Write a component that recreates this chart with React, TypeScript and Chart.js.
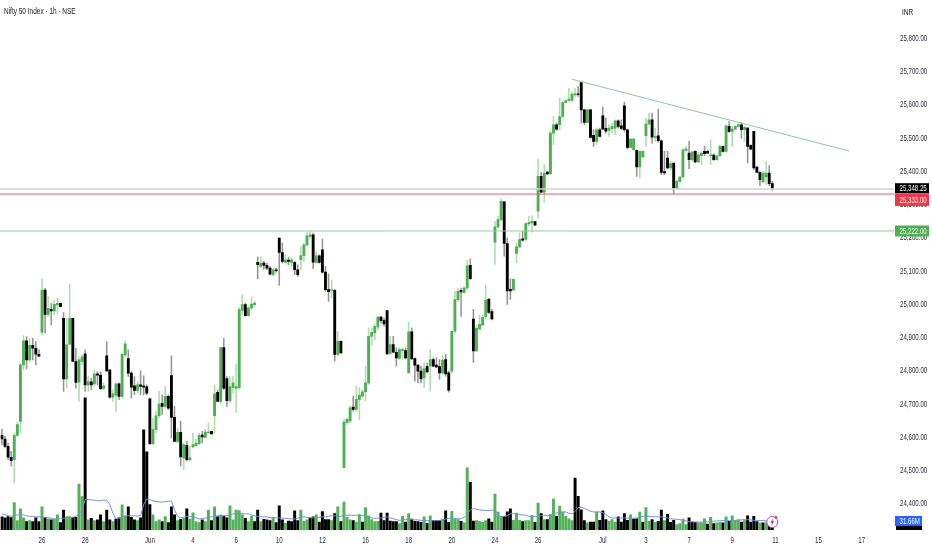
import React, { useEffect, useRef } from 'react';
import Chart from 'chart.js/auto';

const opens = [24605,24594,24572,24539,24532,24605,24647,24817,24889,24832,24876,24867,24849,24915,25042,24969,24984,24979,24997,25002,24957,24775,24879,24957,24827,24765,24827,24850,24757,24766,24760,24790,24786,24746,24844,24802,24720,24726,24760,24722,24847,24836,24792,24754,24740,24757,24754,24751,24715,24580,24622,24664,24701,24692,24722,24785,24659,24587,24614,24537,24575,24532,24570,24574,24580,24606,24599,24612,24617,24664,24734,24707,24869,24776,24709,24748,24746,24748,24981,24998,24965,24988,24998,25125,25113,25123,25116,25108,25088,25103,25198,25155,25125,25132,25125,25125,25103,25133,25145,25178,25203,25208,25125,25145,25163,25096,25043,25041,25041,24848,24888,24508,24643,24648,24690,24683,24713,24723,24736,24763,24903,24913,24931,24961,24950,24980,24851,24878,24855,24836,24860,24860,24793,24916,24836,24816,24798,24778,24812,24813,24833,24816,24812,24793,24833,24793,24798,24918,25013,25041,25035,25048,25116,24955,24859,24925,24937,24962,25014,24977,25186,25232,25254,25307,25182,25044,25042,25152,25172,25196,25194,25241,25244,25248,25279,25384,25336,25397,25392,25514,25539,25539,25564,25606,25612,25612,25629,25632,25666,25584,25546,25584,25507,25489,25524,25566,25528,25522,25527,25529,25551,25536,25596,25524,25471,25464,25462,25412,25442,25506,25541,25554,25501,25506,25491,25398,25439,25409,25424,25349,25369,25382,25462,25454,25434,25459,25427,25446,25459,25459,25446,25448,25434,25446,25474,25459,25534,25519,25526,25534,25539,25524,25529,25477,25519,25412,25396,25367,25382,25394,25362];
const highs = [24624,24602,24582,24557,24612,24644,24822,24905,24902,24897,24897,24887,24862,25075,25047,25022,25002,25012,25017,25002,24974,24957,25060,24957,24867,24840,24847,24862,24782,24777,24802,24797,24797,24762,24887,24802,24742,24762,24762,24852,24889,24862,24797,24782,24767,24799,24784,24757,24717,24657,24677,24737,24727,24752,24727,24844,24692,24627,24647,24582,24587,24572,24612,24592,24612,24617,24622,24642,24617,24757,24742,24870,24897,24782,24782,24783,24818,24990,25028,25003,24993,25021,25008,25141,25141,25128,25123,25113,25108,25108,25198,25183,25148,25141,25141,25128,25118,25173,25183,25215,25218,25213,25158,25148,25195,25113,25090,25073,25043,24918,24890,24653,24658,24693,24723,24753,24748,24743,24813,24928,24928,24938,24963,24963,24958,24980,24903,24903,24868,24868,24868,24868,24946,24928,24838,24818,24813,24823,24823,24863,24838,24838,24833,24843,24848,24798,24918,25038,25048,25048,25053,25131,25136,24984,24937,24967,24967,25057,25017,24984,25249,25264,25316,25309,25199,25076,25076,25184,25214,25219,25244,25264,25266,25248,25436,25396,25419,25399,25519,25564,25544,25619,25609,25614,25649,25639,25649,25654,25666,25586,25586,25586,25524,25529,25529,25592,25559,25539,25544,25554,25554,25554,25607,25526,25499,25499,25464,25461,25461,25559,25574,25574,25529,25586,25494,25459,25459,25429,25424,25372,25384,25466,25474,25489,25459,25461,25456,25459,25474,25462,25494,25452,25449,25477,25476,25539,25549,25534,25536,25544,25546,25534,25531,25479,25519,25414,25399,25399,25429,25416,25369];
const lows = [24577,24567,24532,24512,24463,24602,24612,24802,24805,24827,24832,24817,24842,24907,24912,24962,24937,24967,24972,24992,24737,24747,24877,24827,24747,24707,24817,24737,24737,24742,24752,24757,24742,24742,24797,24717,24707,24677,24712,24717,24842,24782,24717,24727,24732,24727,24727,24727,24577,24577,24612,24657,24667,24687,24682,24597,24587,24582,24512,24502,24527,24527,24567,24572,24577,24582,24597,24612,24609,24612,24707,24702,24742,24692,24702,24732,24673,24743,24968,24963,24963,24983,24991,25076,25108,25105,25103,25088,25085,25095,25056,25123,25123,25118,25113,25088,25083,25103,25128,25173,25198,25106,25123,25123,25093,25038,25008,25018,24828,24843,24851,24508,24638,24643,24678,24678,24653,24718,24708,24758,24875,24893,24923,24943,24933,24848,24848,24853,24813,24833,24833,24835,24793,24833,24768,24763,24763,24748,24793,24738,24811,24808,24773,24788,24783,24735,24793,24913,25008,24963,25033,25043,25074,24824,24857,24922,24934,24957,24972,24952,25119,25229,25249,25144,24999,25014,25039,25124,25169,25189,25189,25234,25216,25237,25259,25334,25306,25389,25389,25479,25522,25522,25559,25604,25609,25609,25624,25624,25544,25539,25544,25499,25474,25479,25502,25524,25514,25504,25514,25509,25529,25524,25519,25467,25469,25462,25384,25379,25439,25474,25539,25484,25489,25487,25389,25389,25406,25404,25332,25346,25366,25379,25459,25407,25429,25424,25424,25419,25446,25452,25419,25432,25432,25444,25457,25456,25516,25474,25524,25532,25499,25489,25424,25464,25404,25394,25356,25364,25359,25356,25342];
const closes = [24594,24572,24539,24529,24605,24637,24817,24889,24832,24876,24867,24849,24843,25042,24969,24987,24979,24999,25002,24992,24775,24877,24957,24827,24764,24832,24840,24757,24767,24757,24790,24786,24745,24754,24799,24720,24730,24760,24722,24849,24880,24792,24750,24740,24757,24752,24750,24732,24580,24622,24664,24699,24692,24722,24687,24659,24587,24614,24540,24577,24532,24537,24577,24582,24605,24600,24615,24615,24609,24730,24707,24869,24747,24709,24752,24763,24752,24983,24998,24965,24988,25000,25003,25118,25123,25116,25108,25090,25103,25100,25155,25128,25133,25128,25133,25103,25088,25146,25178,25205,25208,25126,25145,25125,25096,25043,25037,25043,24848,24888,24853,24645,24653,24688,24683,24713,24726,24736,24763,24903,24915,24933,24961,24950,24940,24850,24878,24855,24838,24863,24863,24838,24916,24835,24816,24798,24775,24806,24796,24833,24813,24811,24793,24831,24790,24741,24918,25013,25038,25036,25048,25115,25076,24859,24927,24939,24960,25012,24975,24955,25232,25254,25309,25182,25039,25039,25074,25172,25194,25192,25242,25246,25249,25237,25384,25336,25394,25391,25514,25539,25526,25564,25606,25612,25616,25631,25632,25630,25584,25546,25584,25501,25489,25524,25504,25526,25520,25529,25534,25551,25534,25528,25524,25471,25496,25496,25412,25459,25459,25541,25554,25502,25504,25491,25396,25394,25409,25422,25349,25369,25382,25464,25467,25434,25457,25427,25449,25454,25452,25454,25449,25434,25446,25474,25459,25536,25519,25526,25534,25539,25524,25531,25474,25466,25409,25396,25374,25394,25394,25362,25348.25];
const volumes = [48,44,49,45,100,34,77,44,31,34,31,44,31,85,46,40,37,40,55,27,73,49,49,46,46,168,122,483,37,43,34,37,55,31,73,37,31,40,44,92,51,85,46,37,34,44,366,285,93,55,31,37,31,49,27,85,55,34,39,43,77,40,63,31,27,37,31,73,34,85,51,55,51,44,88,37,73,71,55,43,31,51,31,73,31,39,37,34,46,27,88,37,24,33,31,70,34,73,33,37,44,48,55,29,67,38,38,34,60,85,31,102,46,37,34,29,56,29,82,52,38,31,32,62,34,62,33,31,31,23,50,29,60,40,32,31,28,48,24,52,35,35,35,38,70,28,68,41,38,32,26,227,174,33,34,32,28,34,41,29,131,65,50,50,66,77,35,62,35,31,34,34,54,28,98,60,38,38,56,113,50,87,65,50,41,34,190,123,74,34,26,29,29,65,35,70,38,32,38,29,48,29,60,35,55,40,41,65,29,82,32,38,28,32,73,34,57,28,35,20,23,40,20,44,29,28,26,26,41,22,46,23,26,28,26,48,32,52,35,37,29,34,52,29,50,31,26,26,26,18,15];
// g = up volume, k = down volume
const volumeSides = (
  'kkkkggggkg' + 'kkkgkgkggk' + 'kggkkggkgk' + 'gkkgkkgkkg' + 'gkkkgkkkkg' +
  'ggkgkkkgkg' + 'kggggkggkg' + 'kgkkgggggk' + 'ggkkgkkkgk' + 'kkgkkkkggg' +
  'kkgkkkkgkg' + 'kgggkggkgg' + 'gggkkkkkkg' + 'gkgkkkkgkg' + 'kkkgkkgggk' +
  'ggkkggggkk' + 'gggkkkgggk' + 'gggkgkgkgg' + 'kgggggkkkk' + 'gkkgkkkggg' +
  'kkkkgkkgkg' + 'gkgkkgkkkg' + 'gggkkkgggk' + 'gkggkgkggg' + 'kgkkkkgkgkk'
).split('');
const volumeAverage = [59,56,52,50,52,55,56,55,52,50,49,48,48,48,45,44,43,40,41,43,43,44,45,46,50,59,72,111,111,110,109,107,107,109,109,93,62,41,43,48,51,52,52,52,51,52,93,113,111,106,105,102,102,104,105,106,74,50,44,46,50,50,50,45,40,41,44,45,48,49,50,50,52,52,56,59,60,60,60,59,59,55,51,50,49,48,48,45,44,44,44,43,43,41,41,40,43,48,48,46,44,44,45,46,48,48,50,52,52,50,50,54,54,54,54,54,54,52,51,48,44,43,43,44,46,48,44,41,38,35,37,38,38,38,37,37,35,35,34,34,34,34,35,38,40,43,43,41,41,41,46,56,74,78,76,73,72,71,71,72,74,56,49,50,52,59,60,57,56,55,54,50,48,49,50,52,54,52,55,60,62,66,66,66,61,59,68,81,84,79,74,68,66,66,66,63,56,48,44,44,44,44,44,43,43,43,44,48,50,50,50,49,48,48,48,46,44,41,40,39,38,35,33,30,30,29,29,29,30,30,32,32,33,34,34,34,34,34,35,37,37,38,38,37,35,35,35,34,33,32,31.66];

const priceTicks = [25800,25700,25600,25500,25400,25300,25200,25100,25000,24900,24800,24700,24600,24500,24400];
const timeTickBars = [13,27,48,62,76,90,104,118,132,146,160,174,195,209,223,237,251,265,279];
const timeTickLabels = ['26','28','Jun','4','6','10','12','16','18','20','24','26','Jul','3','7','9','11','15','17'];
const trendBars = [185, 275];
const trendPrices = [25676, 25460];
const lastPrice = 25348.25;
const redLevel = 25333;
const greenLevel = 25222;

const slotCount = 290;
const slots = Array.from({ length: slotCount }, (_, i) => i);
const GREEN = '#4caf50';
const FONT = '"Liberation Sans", sans-serif';
const TEXT_COLOR = '#2a2e39';

// the reference text is condensed, so labels are squeezed horizontally
const squeezed = (ctx: any, text: string, x: number, y: number, sx: number, align = 'left') => {
  ctx.save();
  ctx.translate(x, y);
  ctx.scale(sx, 1);
  ctx.textAlign = align;
  ctx.textBaseline = 'middle';
  ctx.fillText(text, 0, 0);
  ctx.restore();
};

const overlay = {
  id: 'overlay',
  afterDatasetsDraw(chart: any) {
    const { ctx, chartArea, scales } = chart;
    const y = scales.y;
    const hLine = (value: number, color: string, width: number) => {
      const py = y.getPixelForValue(value) + 0.8;
      ctx.strokeStyle = color;
      ctx.lineWidth = width;
      ctx.beginPath();
      ctx.moveTo(0, py);
      ctx.lineTo(chartArea.right, py);
      ctx.stroke();
    };
    ctx.save();
    hLine(lastPrice, '#d2d2d2', 1.4);
    hLine(redLevel, '#e4606c', 1);
    hLine(greenLevel, '#97cd99', 1);
    ctx.restore();
  },
  afterDraw(chart: any) {
    const { ctx, chartArea, scales } = chart;
    const y = scales.y;
    const x = scales.x;
    ctx.save();

    // axis labels, taken from the scales' own ticks
    ctx.fillStyle = TEXT_COLOR;
    ctx.font = `9px ${FONT}`;
    y.ticks.forEach((t: any) => squeezed(ctx, t.label, 900, y.getPixelForValue(t.value) + 0.5, 0.68));
    x.ticks.forEach((t: any) => squeezed(ctx, t.label, x.getPixelForValue(t.value), 540.5, 0.68, 'center'));

    const tag = (text: string, center: number, fill: string, height = 11, width = 34) => {
      ctx.fillStyle = fill;
      ctx.fillRect(chartArea.right + 1, center - height / 2, width, height);
      ctx.fillStyle = '#fff';
      ctx.font = `9px ${FONT}`;
      squeezed(ctx, text, chartArea.right + 5.5, center + 0.5, 0.68);
    };
    tag('25,222.00', y.getPixelForValue(greenLevel) + 0.8, '#4caf50');
    tag('25,333.00', y.getPixelForValue(redLevel) + 6.4, '#f23645', 12.5);
    tag('25,348.25', y.getPixelForValue(lastPrice), '#000', 10);

    // blue volume average tag sitting over the black volume tag
    ctx.fillStyle = '#000';
    ctx.fillRect(chartArea.right + 2, 525, 26, 5);
    tag('31.66M', 521, '#2962ff', 10, 27);

    // header texts
    ctx.fillStyle = '#131722';
    ctx.font = `500 9px ${FONT}`;
    squeezed(ctx, 'Nifty 50 Index · 1h · NSE', 4, 11.5, 0.72);
    ctx.font = `9px ${FONT}`;
    squeezed(ctx, 'INR', 902, 12.5, 0.72);

    // pink flash badge on the last bar
    const bx = x.getPixelForValue(250);
    const by = 522;
    ctx.strokeStyle = '#b44ad0';
    ctx.lineWidth = 1;
    ctx.fillStyle = '#fff';
    ctx.beginPath();
    ctx.arc(bx, by, 5.5, 0, Math.PI * 2);
    ctx.fill();
    ctx.stroke();
    ctx.fillStyle = '#a23cc4';
    ctx.beginPath();
    ctx.moveTo(bx + 1, by - 4);
    ctx.lineTo(bx - 2, by + 0.8);
    ctx.lineTo(bx - 0.2, by + 0.8);
    ctx.lineTo(bx - 1, by + 4);
    ctx.lineTo(bx + 2, by - 0.8);
    ctx.lineTo(bx + 0.2, by - 0.8);
    ctx.closePath();
    ctx.fill();
    ctx.fillStyle = '#f23645';
    ctx.beginPath();
    ctx.arc(bx + 3.6, by - 4.6, 1.4, 0, Math.PI * 2);
    ctx.fill();
    ctx.restore();
  },
};

const App = () => {
  const chartRef = useRef<HTMLCanvasElement>(null);

  useEffect(() => {
    if (!chartRef.current) return;
    const isUp = opens.map((o, i) => closes[i] >= o);
    const chart = new Chart(chartRef.current, {
      type: 'bar',
      data: {
        labels: slots,
        datasets: [
          {
            label: 'Body',
            data: opens.map((o, i) => [o, closes[i]]),
            backgroundColor: isUp.map((u) => (u ? GREEN : '#000')),
            barThickness: 2.2,
            grouped: false,
            order: 2,
          },
          {
            label: 'Wick',
            data: lows.map((l, i) => [l, highs[i]]),
            backgroundColor: isUp.map((u) => (u ? 'rgba(76,175,80,0.45)' : 'rgba(0,0,0,0.42)')),
            barThickness: 0.9,
            grouped: false,
            order: 3,
          },
          {
            label: 'Volume',
            data: volumes,
            yAxisID: 'y2',
            backgroundColor: volumeSides.map((s) => (s === 'g' ? '#53b257' : '#000')),
            barThickness: 2.3,
            grouped: false,
            order: 5,
          },
          {
            type: 'line',
            label: 'Volume MA',
            data: volumeAverage,
            yAxisID: 'y2',
            borderColor: '#6f93dd',
            borderWidth: 1,
            pointRadius: 0,
            order: 4,
          },
          {
            type: 'line',
            label: 'Trend',
            data: slots.map((s) => (s === trendBars[0] ? trendPrices[0] : s === trendBars[1] ? trendPrices[1] : null)),
            borderColor: '#8fca91',
            borderWidth: 1,
            pointRadius: 0,
            spanGaps: true,
            order: 1,
          },
        ],
      },
      options: {
        responsive: false,
        animation: false,
        layout: { padding: { left: 0.4 } },
        plugins: { legend: { display: false }, tooltip: { enabled: false } },
        scales: {
          x: {
            grid: { display: false },
            border: { display: false },
            afterBuildTicks: (scale: any) => {
              scale.ticks = timeTickBars.map((value) => ({ value }));
            },
            afterFit: (scale: any) => {
              scale.height = 20;
              scale.paddingLeft = 0;
              scale.paddingRight = 0;
            },
            ticks: {
              display: false,
              autoSkip: false,
              maxRotation: 0,
              callback: (value: any) => timeTickLabels[timeTickBars.indexOf(value)],
            },
          },
          y: {
            position: 'right',
            min: 24320.3,
            max: 25914.3,
            grid: { display: false, drawTicks: false },
            border: { display: false },
            afterBuildTicks: (scale: any) => {
              scale.ticks = priceTicks.map((value) => ({ value }));
            },
            afterFit: (scale: any) => {
              scale.width = 38;
              scale.paddingTop = 0;
              scale.paddingBottom = 0;
            },
            ticks: {
              display: false,
              autoSkip: false,
              callback: (value: any) =>
                Number(value).toLocaleString('en-US', { minimumFractionDigits: 2, maximumFractionDigits: 2 }),
            },
          },
          y2: { display: false, min: 0, max: 1935 },
        },
      } as any,
      plugins: [overlay],
    } as any);
    return () => chart.destroy();
  }, []);

  return (
    <div style={{ position: 'absolute', left: 0, top: 0, width: 932, height: 550, background: '#fff' }}>
      <canvas ref={chartRef} width={932} height={550} style={{ display: 'block' }}></canvas>
    </div>
  );
};

export default App;
